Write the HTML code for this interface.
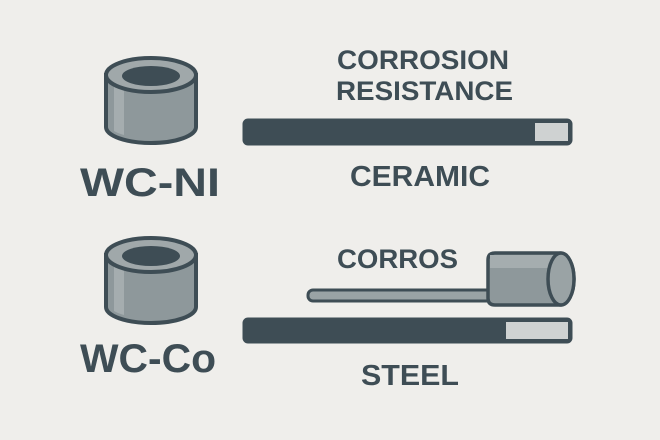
<!DOCTYPE html>
<html><head><style>
body{margin:0;background:#efeeeb;}
svg{display:block}
text{font-family:"Liberation Sans",sans-serif;font-weight:bold;fill:#3e4d55}
</style></head><body>
<svg width="660" height="440" viewBox="0 0 660 440">
<rect width="660" height="440" fill="#efeeeb"/>
<defs>
<g id="cyl">
<path d="M0,0 L0,52 A45,16 0 0 0 90,52 L90,0 Z" fill="#8e989b" stroke="#3e4d55" stroke-width="4"/>
<path d="M8,10 L8,56 A45,14 0 0 0 18,60 L18,14 Z" fill="#a5adaf"/>
<ellipse cx="45" cy="0" rx="45" ry="17" fill="#a0a8aa" stroke="#3e4d55" stroke-width="4"/>
<ellipse cx="45" cy="1" rx="29" ry="10" fill="#3e4d55"/>
</g>
</defs>
<use href="#cyl" x="106" y="75"/>
<use href="#cyl" x="106" y="255"/>
<text x="80" y="196" font-size="40" textLength="140" lengthAdjust="spacingAndGlyphs">WC-NI</text>
<text x="80" y="372" font-size="40" textLength="136" lengthAdjust="spacingAndGlyphs">WC-Co</text>
<text x="337" y="69" font-size="27" textLength="172" lengthAdjust="spacingAndGlyphs">CORROSION</text>
<text x="336" y="100" font-size="27" textLength="177" lengthAdjust="spacingAndGlyphs">RESISTANCE</text>
<text x="350" y="186" font-size="29" textLength="140" lengthAdjust="spacingAndGlyphs">CERAMIC</text>
<text x="337" y="268" font-size="27" textLength="121" lengthAdjust="spacingAndGlyphs">CORROS</text>
<text x="361" y="385" font-size="29" textLength="98" lengthAdjust="spacingAndGlyphs">STEEL</text>
<rect x="244" y="120" width="327" height="24" rx="4" fill="#3e4d55" stroke="#3e4d55" stroke-width="3"/>
<rect x="535" y="123" width="33" height="18" fill="#cfd2d2"/>
<rect x="244" y="319" width="327" height="23" rx="4" fill="#3e4d55" stroke="#3e4d55" stroke-width="3"/>
<rect x="506" y="322" width="62" height="17" fill="#cfd2d2"/>
<rect x="308" y="290" width="185" height="11" rx="5" fill="#9aa3a5" stroke="#3e4d55" stroke-width="3"/>
<path d="M495,253 L560,253 A14,26 0 0 1 560,305 L495,305 Q488,305 488,298 L488,260 Q488,253 495,253 Z" fill="#8e989b" stroke="#3e4d55" stroke-width="3.5"/>
<rect x="490" y="255" width="68" height="13" fill="#a5adaf"/>
<ellipse cx="561" cy="279" rx="13" ry="26" fill="#9aa3a5" stroke="#3e4d55" stroke-width="3.5"/>
</svg>
</body></html>
